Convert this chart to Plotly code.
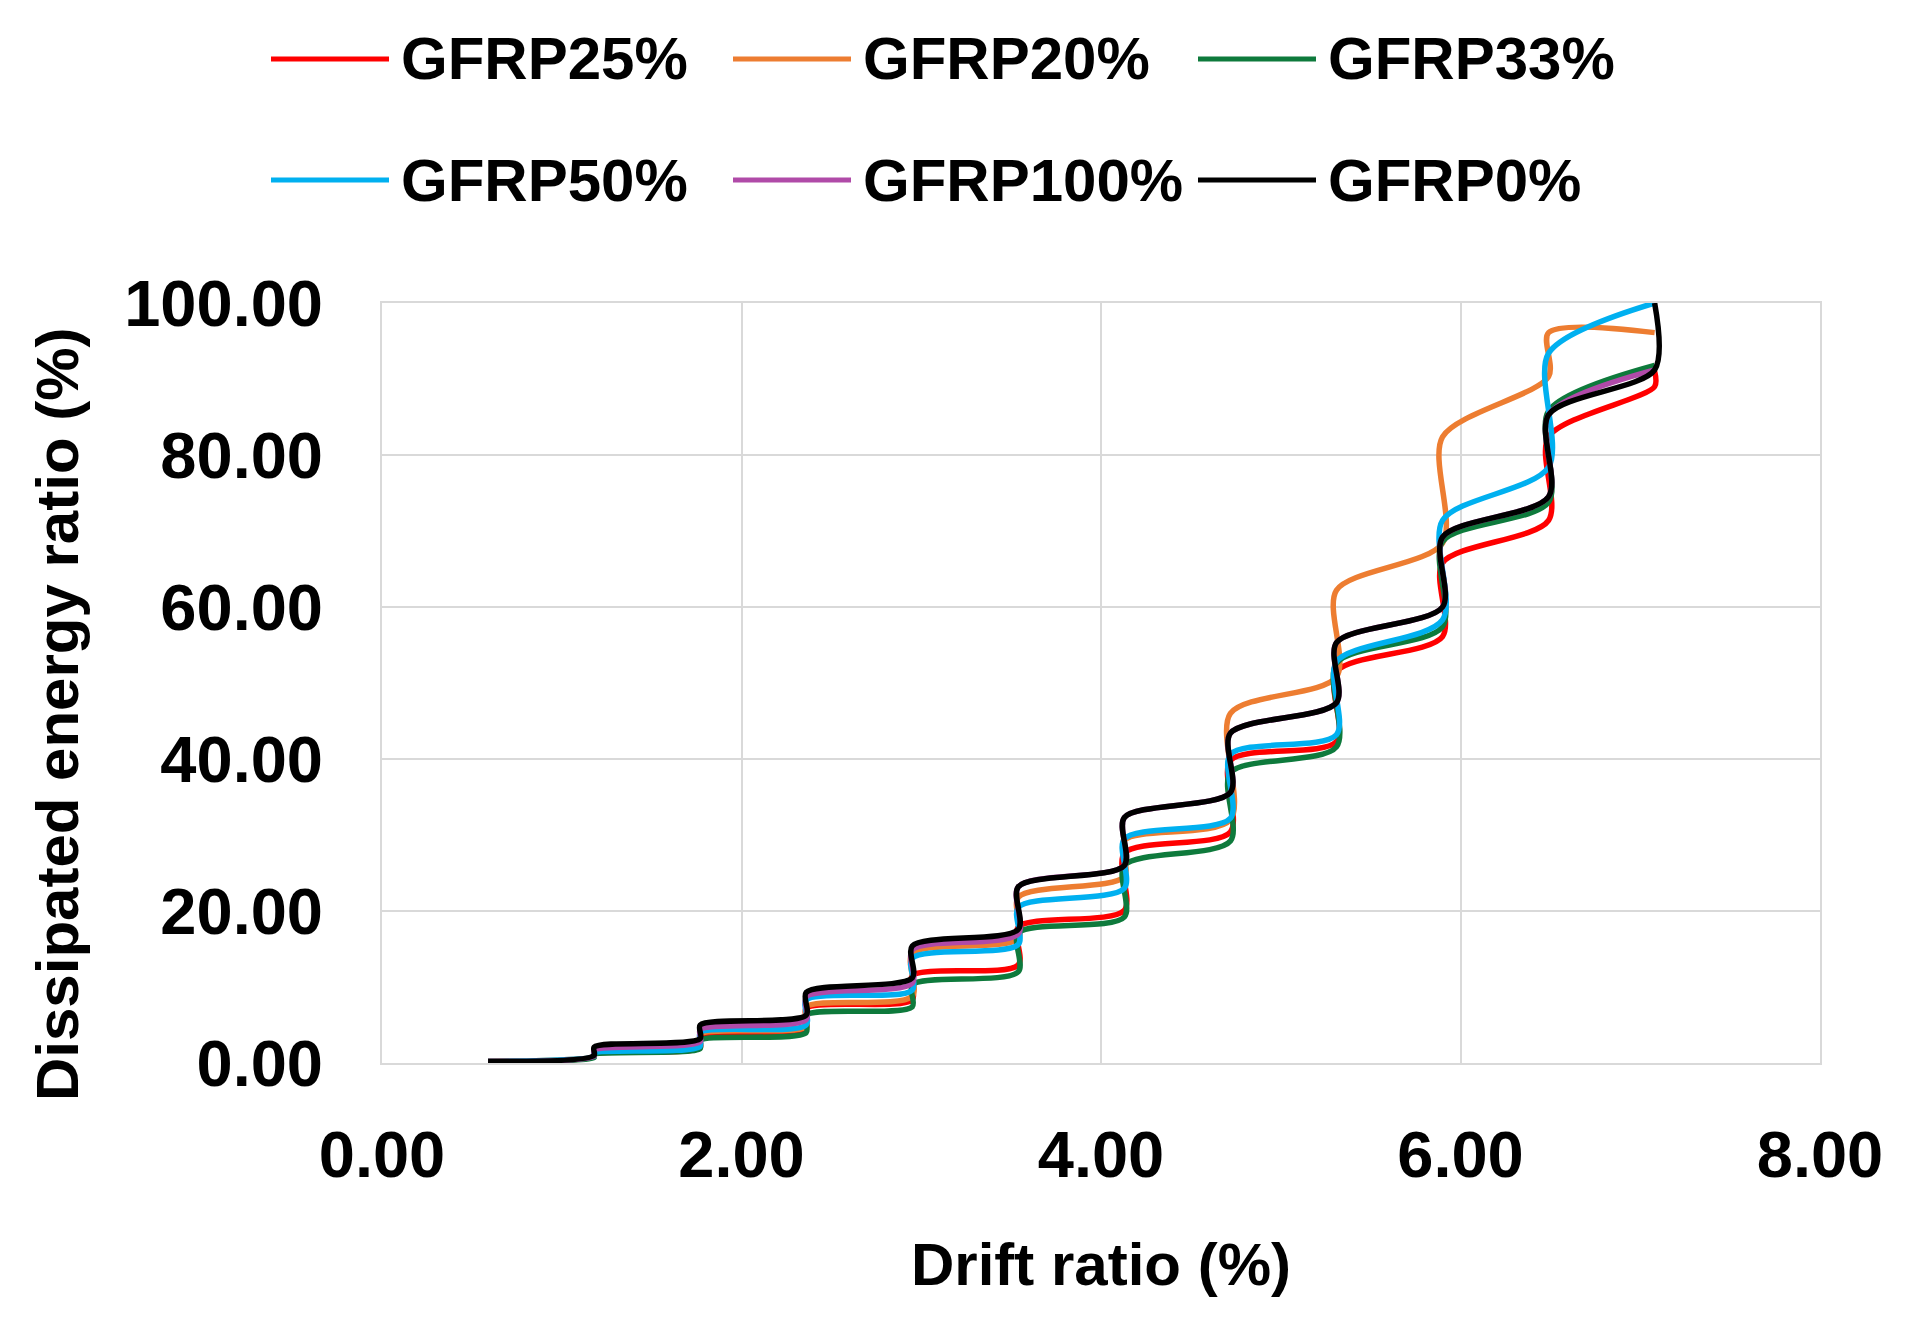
import plotly.graph_objects as go

# ---------------- data ----------------
drift_levels = [0.59, 1.18, 1.77, 2.36, 2.95, 3.54, 4.13, 4.72, 5.31, 5.90, 6.49, 7.08]

series_names = ["GFRP25%", "GFRP20%", "GFRP33%", "GFRP50%", "GFRP100%", "GFRP0%"]
series_colors = ["#FF0000", "#ED7D31", "#0E7A3C", "#00B0F0", "#B04AA8", "#000000"]

# energy ratio at start / end of each drift level (level i spans drift_levels[i] .. drift_levels[i+1])
gfrp25_start = [0.2, 1.2, 3.5, 7.2, 11.5, 17.9, 27.6, 39.8, 51.5, 65.8, 82.4]
gfrp25_end   = [0.8, 2.0, 4.5, 8.3, 12.9, 20.1, 30.4, 42.3, 56.1, 71.4, 89.0]
gfrp25_final = 91.0

gfrp20_start = [0.2, 1.3, 3.8, 7.4, 14.4, 21.8, 29.3, 46.0, 62.2, 82.4, 96.1]
gfrp20_end   = [0.9, 2.1, 4.8, 8.8, 16.4, 24.5, 32.0, 50.8, 68.4, 90.3, 96.1]
gfrp20_final = None

gfrp33_start = [0.2, 1.1, 3.0, 6.3, 10.3, 17.1, 26.0, 38.2, 52.6, 68.6, 85.8]
gfrp33_end   = [0.7, 1.9, 4.0, 7.4, 12.0, 19.2, 29.2, 41.6, 57.4, 73.8, 91.8]
gfrp33_final = None

gfrp50_start = [0.2, 1.3, 4.0, 8.3, 13.8, 20.5, 29.5, 40.6, 52.8, 71.4, 93.4]
gfrp50_end   = [0.9, 2.2, 5.0, 9.6, 15.6, 23.0, 32.2, 43.2, 58.3, 78.4, 100.0]
gfrp50_final = None

gfrp100_start = [0.2, 1.7, 4.4, 8.7, 14.9, 23.2, 32.3, 43.4, 55.3, 69.2, 85.3]
gfrp100_end   = [0.9, 2.8, 5.7, 10.5, 17.0, 26.0, 35.6, 47.4, 60.0, 74.5, 91.2]
gfrp100_final = None

gfrp0_start = [0.2, 2.1, 5.0, 9.3, 15.4, 23.2, 32.3, 43.4, 55.3, 69.2, 85.3]
gfrp0_end   = [1.0, 3.2, 6.3, 11.2, 17.6, 26.0, 35.6, 47.4, 60.0, 74.5, 91.2]
gfrp0_final = 100.0

x_ticks = [0, 2, 4, 6, 8]
y_ticks = [0, 20, 40, 60, 80, 100]

series_data = [
    (gfrp25_start, gfrp25_end, gfrp25_final),
    (gfrp20_start, gfrp20_end, gfrp20_final),
    (gfrp33_start, gfrp33_end, gfrp33_final),
    (gfrp50_start, gfrp50_end, gfrp50_final),
    (gfrp100_start, gfrp100_end, gfrp100_final),
    (gfrp0_start, gfrp0_end, gfrp0_final),
]

# ---------------- figure ----------------
W, H = 1907, 1323
OFF = 8  # page body margin offset
ML, MT = 382 - OFF, 303 - OFF
MR = W - (1820 - OFF)
MB = H - (1063 - OFF)
PW, PH = W - ML - MR, H - MT - MB
FONT = "Liberation Sans, Arial, sans-serif"

fig = go.Figure()
for name, color, (ys, ye, yf) in zip(series_names, series_colors, series_data):
    xs, yv = [], []
    for i in range(len(ys)):
        xs += [drift_levels[i], drift_levels[i + 1]]
        yv += [ys[i], ye[i]]
    if yf is not None:
        xs.append(drift_levels[-1])
        yv.append(yf)
    fig.add_trace(go.Scatter(
        x=xs, y=yv, mode="lines", name=name,
        line=dict(color=color, width=5.5, shape="spline", smoothing=0.8),
        showlegend=False,
    ))

axis_common = dict(
    showgrid=True, gridcolor="#D9D9D9", gridwidth=2,
    showline=True, linecolor="#D9D9D9", linewidth=2, mirror=True,
    zeroline=False, ticks="",
    tickfont=dict(family=FONT, size=65, color="#000000", weight="bold"),
    tickformat=".2f",
)

fig.update_xaxes(range=[0, 8], tickvals=x_ticks, ticklabelstandoff=34,
                 title=dict(text="Drift ratio (%)", standoff=53,
                            font=dict(family=FONT, size=60, color="#000000", weight="bold")),
                 **axis_common)
fig.update_yaxes(range=[0, 100], tickvals=y_ticks, ticklabelstandoff=44,
                 **axis_common)

def px_to_paper_x(px):
    return (px - OFF - ML) / PW
def px_to_paper_y(py):
    return (H - MB - (py - OFF)) / PH

# y axis title as a rotated annotation placed at the reference position
fig.add_annotation(xref="paper", yref="paper",
                   x=px_to_paper_x(57), y=px_to_paper_y(714),
                   xanchor="center", yanchor="middle", showarrow=False,
                   textangle=-90, text="Dissipated energy ratio (%)",
                   font=dict(family=FONT, size=60, color="#000000", weight="bold"))

# custom legend (3 columns x 2 rows) positioned in pixel terms
col_sym_x = [271, 733, 1198]
sym_len = 118
row_y = [59, 180]

for k, (name, color) in enumerate(zip(series_names, series_colors)):
    r, c = divmod(k, 3)
    x0 = col_sym_x[c]
    y = row_y[r]
    fig.add_shape(type="line", xref="paper", yref="paper",
                  x0=px_to_paper_x(x0), x1=px_to_paper_x(x0 + sym_len),
                  y0=px_to_paper_y(y), y1=px_to_paper_y(y),
                  line=dict(color=color, width=5))
    fig.add_annotation(xref="paper", yref="paper",
                       x=px_to_paper_x(x0 + sym_len + 10), y=px_to_paper_y(y),
                       xanchor="left", yanchor="middle", showarrow=False,
                       text=name,
                       font=dict(family=FONT, size=60, color="#000000", weight="bold"))

fig.update_layout(
    width=W, height=H,
    margin=dict(l=ML, r=MR, t=MT, b=MB),
    paper_bgcolor="white", plot_bgcolor="white",
    showlegend=False,
)

fig.write_html("out.html")
